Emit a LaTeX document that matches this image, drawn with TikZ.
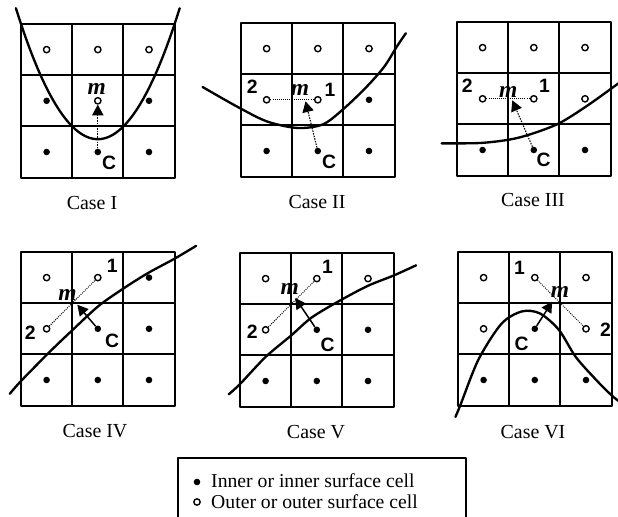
\documentclass[tikz,border=0pt]{standalone}
\usepackage{fontspec}
\setmainfont{Liberation Serif}
\setsansfont{Liberation Sans}
\usetikzlibrary{arrows.meta}

\newcommand{\capfont}{\fontsize{17}{19}\selectfont}
\newcommand{\keyfont}{\fontsize{16.8}{19}\selectfont}
\newcommand{\labfont}{\fontsize{16.5}{16.5}\selectfont\sffamily\bfseries}
\newcommand{\mfont}{\fontsize{20}{20}\selectfont\bfseries\itshape}

\begin{document}
\begin{tikzpicture}[x=0.03cm, y=-0.03cm, line join=round,
    cellbox/.style={x=1.536cm, y=-1.536cm},
    cellline/.style={line width=1.6pt},
    surface/.style={line width=2pt, line cap=round},
    indot/.style={circle, fill=black, inner sep=0pt, minimum size=5.6pt},
    outdot/.style={circle, draw=black, fill=white, line width=1.2pt, inner sep=0pt, minimum size=5.4pt},
    lab/.style={font=\labfont, inner sep=0pt},
    mlab/.style={font=\mfont, inner sep=0pt},
    pair/.style={densely dotted, line width=0.8pt},
    probe/.style={-{Triangle[length=3.2mm, width=3.4mm]}, line width=1.3pt},
    dprobe/.style={probe, densely dotted, line width=0.9pt},
    caption/.style={font=\capfont}]
  \useasboundingbox (0,0) rectangle (618,517);

  % Case I
  \begin{scope}[shift={(21,24)}, cellbox]
    \draw[cellline] (0,0) rectangle (3,3) (1,0) -- (1,3) (2,0) -- (2,3) (0,1) -- (3,1) (0,2) -- (3,2);
    \draw[surface] plot[domain=-0.1:3.1, samples=50] (\x,{2.25-(\x-1.5)^2});
    \foreach \p [count=\k] in {(0.5,0.5),(1.5,0.5),(2.5,0.5)}
      \node[outdot] (oI-\k) at \p {};
    \foreach \p [count=\k] in {(0.5,1.5),(2.5,1.5),(0.5,2.5),(2.5,2.5)}
      \node[indot] (iI-\k) at \p {};
    \node[outdot] (M-I) at (1.5,1.5) {};
    \node[indot] (C-I) at (1.5,2.5) {};
    \draw[dprobe] (C-I) -- (M-I);
    \node[mlab] (m-I) at (1.48,1.27) {m};
    \node[lab] (c-I) at (1.72,2.72) {C};
  \end{scope}
  \node[caption] (capI) at (92,203) {Case I};

  % Case II
  \begin{scope}[shift={(241,23)}, cellbox]
    \draw[cellline] (0,0) rectangle (3,3) (1,0) -- (1,3) (2,0) -- (2,3) (0,1) -- (3,1) (0,2) -- (3,2);
    \draw[surface] plot[smooth] coordinates {(-0.75,1.25) (-0.1,1.62) (0.5,1.92) (1.1,2.05) (1.6,1.98) (2.0,1.68) (2.45,1.25) (2.8,0.85) (3.05,0.45) (3.22,0.2)};
    \foreach \p [count=\k] in {(0.5,0.5),(1.5,0.5),(2.5,0.5)}
      \node[outdot] (oII-\k) at \p {};
    \foreach \p [count=\k] in {(2.5,1.5),(0.5,2.5),(2.5,2.5)}
      \node[indot] (iII-\k) at \p {};
    \node[outdot] (P2-II) at (0.5,1.5) {};
    \node[outdot] (P1-II) at (1.5,1.5) {};
    \node[indot] (C-II) at (1.5,2.5) {};
    \coordinate (T-II) at (1.26,1.53);
    \draw[pair] (P2-II) -- (P1-II);
    \draw[dprobe] (C-II) -- (T-II);
    \node[mlab] (m-II) at (1.15,1.3) {m};
    \node[lab] (n1-II) at (1.74,1.3) {1};
    \node[lab] (n2-II) at (0.22,1.25) {2};
    \node[lab] (c-II) at (1.72,2.72) {C};
  \end{scope}
  \node[caption] (capII) at (317,202) {Case II};

  % Case III
  \begin{scope}[shift={(457,22)}, cellbox]
    \draw[cellline] (0,0) rectangle (3,3) (1,0) -- (1,3) (2,0) -- (2,3) (0,1) -- (3,1) (0,2) -- (3,2);
    \draw[surface] plot[smooth] coordinates {(-0.3,2.37) (0.5,2.36) (1.2,2.26) (1.95,2.0) (2.55,1.63) (3.15,1.2)};
    \foreach \p [count=\k] in {(0.5,0.5),(1.5,0.5),(2.5,0.5),(2.5,1.5)}
      \node[outdot] (oIII-\k) at \p {};
    \foreach \p [count=\k] in {(0.5,2.5),(2.5,2.5)}
      \node[indot] (iIII-\k) at \p {};
    \node[outdot] (P2-III) at (0.5,1.5) {};
    \node[outdot] (P1-III) at (1.5,1.5) {};
    \node[indot] (C-III) at (1.5,2.5) {};
    \coordinate (T-III) at (1.08,1.53);
    \draw[pair] (P2-III) -- (P1-III);
    \draw[dprobe] (C-III) -- (T-III);
    \node[mlab] (m-III) at (1.0,1.37) {m};
    \node[lab] (n1-III) at (1.71,1.24) {1};
    \node[lab] (n2-III) at (0.2,1.24) {2};
    \node[lab] (c-III) at (1.69,2.7) {C};
  \end{scope}
  \node[caption] (capIII) at (533,200) {Case III};

  % Case IV
  \begin{scope}[shift={(21,252)}, cellbox]
    \draw[cellline] (0,0) rectangle (3,3) (1,0) -- (1,3) (2,0) -- (2,3) (0,1) -- (3,1) (0,2) -- (3,2);
    \draw[surface] plot[smooth] coordinates {(-0.22,2.77) (0,2.52) (0.55,1.96) (1.0,1.53) (1.52,1.05) (2.05,0.68) (2.5,0.4) (3.0,0.13) (3.42,-0.12)};
    \node[outdot] (oIV-1) at (0.5,0.5) {};
    \foreach \p [count=\k] in {(2.5,0.5),(2.5,1.5),(0.5,2.5),(1.5,2.5),(2.5,2.5)}
      \node[indot] (iIV-\k) at \p {};
    \node[outdot] (P1-IV) at (1.5,0.5) {};
    \node[outdot] (P2-IV) at (0.5,1.5) {};
    \node[indot] (C-IV) at (1.5,1.5) {};
    \coordinate (T-IV) at (1.1,1.03);
    \draw[pair] (P2-IV) -- (P1-IV);
    \draw[probe] (C-IV) -- (T-IV);
    \node[mlab] (m-IV) at (0.91,0.84) {m};
    \node[lab] (n1-IV) at (1.78,0.28) {1};
    \node[lab] (n2-IV) at (0.18,1.58) {2};
    \node[lab] (c-IV) at (1.78,1.74) {C};
  \end{scope}
  \node[caption] (capIV) at (95,431) {Case IV};

  % Case V
  \begin{scope}[shift={(240,253)}, cellbox]
    \draw[cellline] (0,0) rectangle (3,3) (1,0) -- (1,3) (2,0) -- (2,3) (0,1) -- (3,1) (0,2) -- (3,2);
    \draw[surface] plot[smooth] coordinates {(-0.22,2.76) (0,2.56) (0.5,2.03) (1.0,1.61) (1.4,1.26) (1.95,0.93) (2.5,0.64) (3.0,0.44) (3.44,0.24)};
    \foreach \p [count=\k] in {(0.5,0.5),(2.5,0.5)}
      \node[outdot] (oV-\k) at \p {};
    \foreach \p [count=\k] in {(2.5,1.5),(0.5,2.5),(1.5,2.5),(2.5,2.5)}
      \node[indot] (iV-\k) at \p {};
    \node[outdot] (P1-V) at (1.5,0.5) {};
    \node[outdot] (P2-V) at (0.5,1.5) {};
    \node[indot] (C-V) at (1.5,1.5) {};
    \coordinate (T-V) at (1.08,0.88);
    \draw[pair] (P2-V) -- (P1-V);
    \draw[probe] (C-V) -- (T-V);
    \node[mlab] (m-V) at (0.97,0.7) {m};
    \node[lab] (n1-V) at (1.71,0.27) {1};
    \node[lab] (n2-V) at (0.24,1.54) {2};
    \node[lab] (c-V) at (1.71,1.8) {C};
  \end{scope}
  \node[caption] (capV) at (316,432) {Case V};

  % Case VI
  \begin{scope}[shift={(458,252)}, cellbox]
    \draw[cellline] (0,0) rectangle (3,3) (1,0) -- (1,3) (2,0) -- (2,3) (0,1) -- (3,1) (0,2) -- (3,2);
    \draw[surface] plot[smooth] coordinates {(-0.05,3.22) (0.05,2.98) (0.4,2.1) (0.85,1.4) (1.25,1.16) (1.6,1.2) (1.97,1.52) (2.3,2.05) (2.7,2.5) (3.0,2.8) (3.2,2.96)};
    \foreach \p [count=\k] in {(0.5,0.5),(2.5,0.5),(0.5,1.5)}
      \node[outdot] (oVI-\k) at \p {};
    \foreach \p [count=\k] in {(0.5,2.5),(1.5,2.5),(2.5,2.5)}
      \node[indot] (iVI-\k) at \p {};
    \node[outdot] (P1-VI) at (1.5,0.5) {};
    \node[outdot] (P2-VI) at (2.5,1.5) {};
    \node[indot] (C-VI) at (1.5,1.5) {};
    \coordinate (T-VI) at (1.84,0.97);
    \draw[pair] (P1-VI) -- (P2-VI);
    \draw[probe] (C-VI) -- (T-VI);
    \node[mlab] (m-VI) at (1.99,0.79) {m};
    \node[lab] (n1-VI) at (1.2,0.31) {1};
    \node[lab] (n2-VI) at (2.88,1.52) {2};
    \node[lab] (c-VI) at (1.24,1.8) {C};
  \end{scope}
  \node[caption] (capVI) at (533,432) {Case VI};

  % key
  \draw[line width=1.4pt] (178,522) -- (178,458) -- (466,458) -- (466,522);
  \node[indot] (keyin) at (197,482) {};
  \node[outdot] (keyout) at (197,502) {};
  \node[font=\keyfont, anchor=base west, inner sep=0pt] (keyinT) at (211,487) {Inner or inner surface cell};
  \node[font=\keyfont, anchor=base west, inner sep=0pt] (keyoutT) at (211,508) {Outer or outer surface cell};
\end{tikzpicture}
\end{document}
